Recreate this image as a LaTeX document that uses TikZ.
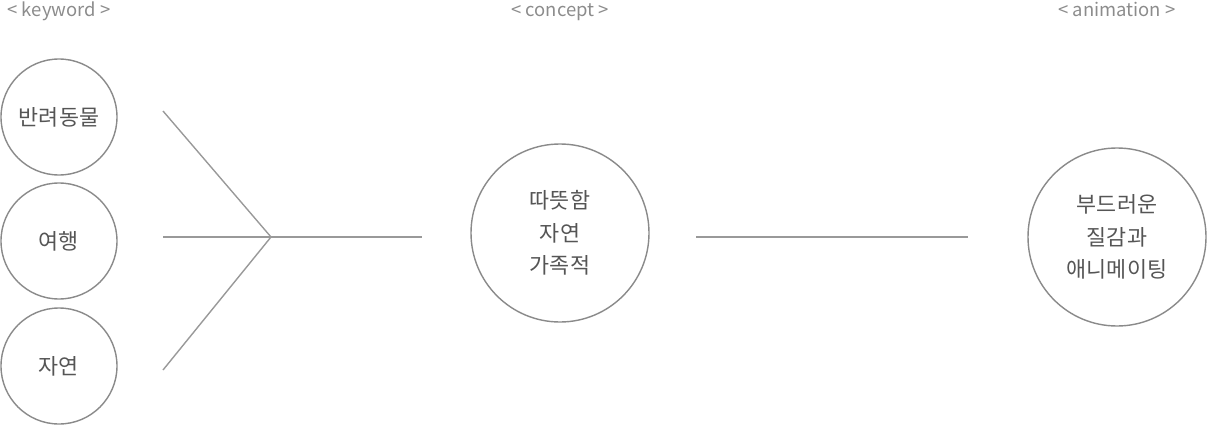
\documentclass[tikz,border=0pt]{standalone}
\usepackage{fontspec}
\setmainfont{Noto Sans CJK KR}
\usepackage{tikz}
\usetikzlibrary{positioning}
\definecolor{trait}{HTML}{999999}
\definecolor{contour}{HTML}{8A8A8A}
\definecolor{texte}{HTML}{555555}
\definecolor{titregris}{HTML}{8C8C8C}
\tikzset{
  cercle/.style={circle, draw=contour, line width=0.8pt, text=texte,
    font=\fontsize{12.4}{18.6}\selectfont, align=center, inner sep=0pt},
  petit/.style={cercle, minimum size=116\pxu},
  grand/.style={cercle, minimum size=178\pxu},
  liaison/.style={draw=trait, line width=0.8pt},
  etiquette/.style={font=\fontsize{10.5}{11}\selectfont, text=titregris, anchor=base},
}
\newlength{\pxu}
\setlength{\pxu}{0.02cm}

\begin{document}
\begin{tikzpicture}[x=0.02cm, y=-0.02cm]
    \useasboundingbox (0,0) rectangle (1207,426);

    \node[etiquette] (motcle) at (59,16) {< keyword >};
    \node[etiquette] (idee) at (560,16) {< concept >};
    \node[etiquette] (anim) at (1117,16) {< animation >};

    \node[petit] (animal) at (59,117) {반려동물};
    \node[petit] (voyage) at (59,241) {여행};
    \node[petit] (nature) at (59,366) {자연};

    \node[grand] (concept) at (560,233) {따뜻함\\자연\\가족적};
    \node[grand] (douceur) at (1117,237) {부드러운\\질감과\\애니메이팅};

    \coordinate (haut) at (163,111);
    \coordinate (milieu) at (163,237);
    \coordinate (bas) at (163,370);
    \coordinate (jonction) at (271,237);
    \coordinate (entree) at (422,237);
    \coordinate (sortie) at (696,237);
    \coordinate (arrivee) at (968,237);

    \draw[liaison] (haut) -- (jonction);
    \draw[liaison] (bas) -- (jonction);
    \draw[liaison] (milieu) -- (jonction) -- (entree);
    \draw[liaison] (sortie) -- (arrivee);
  \end{tikzpicture}
\end{document}
